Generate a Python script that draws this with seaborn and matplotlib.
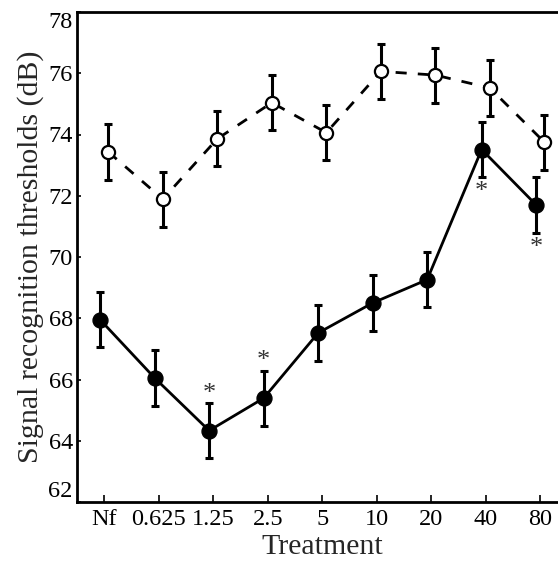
"""Signal recognition thresholds per treatment, two groups with SE bars."""

import matplotlib

matplotlib.use('Agg')
import matplotlib.pyplot as plt
import numpy as np
import pandas as pd
import seaborn as sns

# values
treatments = ['Nf', '0.625', '1.25', '2.5', '5', '10', '20', '40', '80']
open_means = [73.43, 71.89, 73.86, 75.04, 74.06, 76.06, 75.94, 75.52, 73.75]
open_err = [0.9, 0.9, 0.9, 0.9, 0.9, 0.9, 0.9, 0.9, 0.9]
filled_means = [67.95, 66.05, 64.33, 65.39, 67.52, 68.5, 69.26, 73.51, 71.7]
filled_err = [0.9, 0.9, 0.9, 0.9, 0.9, 0.9, 0.9, 0.9, 0.9]
stars_above = ['1.25', '2.5']
stars_below = ['40', '80']

DODGE = 0.075

sns.set_theme(style='ticks')
plt.rcParams['font.family'] = ['Liberation Serif', 'DejaVu Serif']

pos = np.arange(len(treatments))
df = pd.DataFrame({
    'x_open': pos + DODGE,
    'x_filled': pos - DODGE,
    'open': open_means,
    'filled': filled_means,
})

fig = plt.figure(figsize=(5.58, 5.67), dpi=100)
ax = fig.add_axes([77 / 558, 1 - 502 / 567, 490.5 / 558, 490 / 567])

# lines first, markers drawn on top so open circles hide the dashes
sns.lineplot(data=df, x='x_open', y='open', ax=ax, color='black', lw=2, zorder=2)
ax.lines[-1].set_dashes([4, 4])
sns.lineplot(data=df, x='x_filled', y='filled', ax=ax, color='black', lw=2, zorder=2)

ax.errorbar(df['x_open'], df['open'], yerr=open_err, fmt='none', ecolor='black',
            elinewidth=2.2, capsize=3, capthick=2.2, zorder=3)
ax.errorbar(df['x_filled'], df['filled'], yerr=filled_err, fmt='none', ecolor='black',
            elinewidth=2.2, capsize=3, capthick=2.2, zorder=3)

sns.scatterplot(data=df, x='x_open', y='open', ax=ax, s=90, marker='o',
                facecolor='white', edgecolor='black', linewidth=1.6, zorder=4)
sns.scatterplot(data=df, x='x_filled', y='filled', ax=ax, s=115, marker='o',
                color='black', edgecolor='black', linewidth=1, zorder=4)

for t in stars_above:
    i = treatments.index(t)
    ax.text(i - DODGE, filled_means[i] + filled_err[i] + 0.3, '*', ha='center',
            va='center', fontsize=19, color='#333333')
for t in stars_below:
    i = treatments.index(t)
    ax.text(i - DODGE, filled_means[i] - filled_err[i] - 0.5, '*', ha='center',
            va='center', fontsize=19, color='#333333')

ax.set_xlim(-0.5, 8.5)
ax.set_ylim(62, 78)
ax.set_xticks(pos)
ax.set_xticklabels(treatments)
ax.set_yticks(np.arange(62, 79, 2))
ax.tick_params(axis='both', direction='in', labelsize=17.5, colors='black', width=1.2)
ax.tick_params(axis='x', length=5, pad=5)
ax.tick_params(axis='y', length=3, pad=3)
ylabels = ax.get_yticklabels()
ylabels[0].set_va('bottom')
ylabels[-1].set_va('top')

for side in ['left', 'bottom', 'top']:
    ax.spines[side].set_linewidth(2)
    ax.spines[side].set_color('black')
ax.spines['right'].set_visible(False)

ax.set_xlabel('Treatment', fontsize=21.5, labelpad=3)
ax.set_ylabel('Signal recognition thresholds (dB)', fontsize=21.5, labelpad=3)

fig.savefig('out.png', dpi=100)
